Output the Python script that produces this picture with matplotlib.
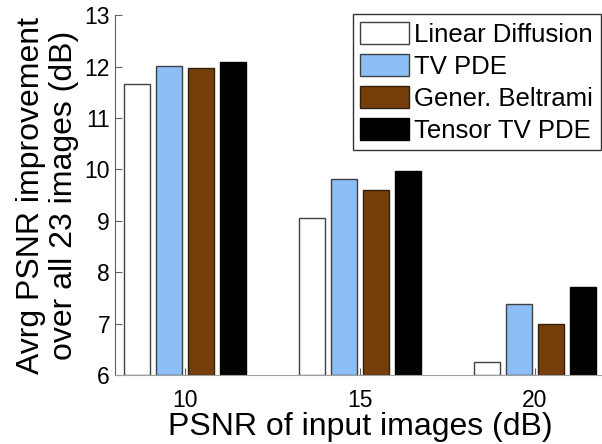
import numpy as np
import matplotlib.pyplot as plt

plt.rcParams['font.family'] = ['Liberation Sans', 'DejaVu Sans']

# data
input_psnr = [10, 15, 20]
methods = ['Linear Diffusion', 'TV PDE', 'Gener. Beltrami', 'Tensor TV PDE']
linear_diffusion = [11.67, 9.05, 6.25]
tv_pde = [12.01, 9.81, 7.39]
gener_beltrami = [11.98, 9.60, 6.99]
tensor_tv_pde = [12.08, 9.97, 7.72]

series = [linear_diffusion, tv_pde, gener_beltrami, tensor_tv_pde]
colors = ['white', '#8bbff5', '#743f0a', 'black']
edges = ['#404040', '#404040', '#302010', 'black']

fig = plt.figure(figsize=(6.02, 4.44), dpi=100)
ax = fig.add_axes([0.191, 0.155, 0.814, 0.811])

# matlab style grouped bars
x = np.array(input_psnr, dtype=float)
step = 0.91
width = 0.73
for i, (vals, c, ec) in enumerate(zip(series, colors, edges)):
    ax.bar(x + (i - 1.5) * step, np.array(vals) - 6, width=width, bottom=6,
           color=c, edgecolor=ec, linewidth=1.0, label=methods[i])

ax.set_xlim(8, 22)
ax.set_ylim(6, 13)
ax.set_yticks(range(6, 14))
ax.set_xticks(input_psnr)
ax.tick_params(direction='in', labelsize=16.5, length=5, color='#606060')
ax.tick_params(axis='x', pad=10)
ax.spines['top'].set_visible(False)
ax.spines['right'].set_visible(False)
ax.spines['left'].set_color('#606060')
ax.spines['bottom'].set_color('#a0a0a0')

ax.set_xlabel('PSNR of input images (dB)', fontsize=23, labelpad=0)
ax.set_ylabel('Avrg PSNR improvement\nover all 23 images (dB)', fontsize=23,
              labelpad=4, linespacing=1.15)

leg = ax.legend(loc='upper right', fontsize=18.5, frameon=True, fancybox=False,
                edgecolor='black', handlelength=1.9, handleheight=0.97,
                handletextpad=0.2, labelspacing=0.27, borderpad=0.3,
                borderaxespad=0, bbox_to_anchor=(601 / 602, 1 - 14 / 444),
                bbox_transform=fig.transFigure)
leg.get_frame().set_linewidth(1.0)

fig.savefig('out.png', dpi=100)
